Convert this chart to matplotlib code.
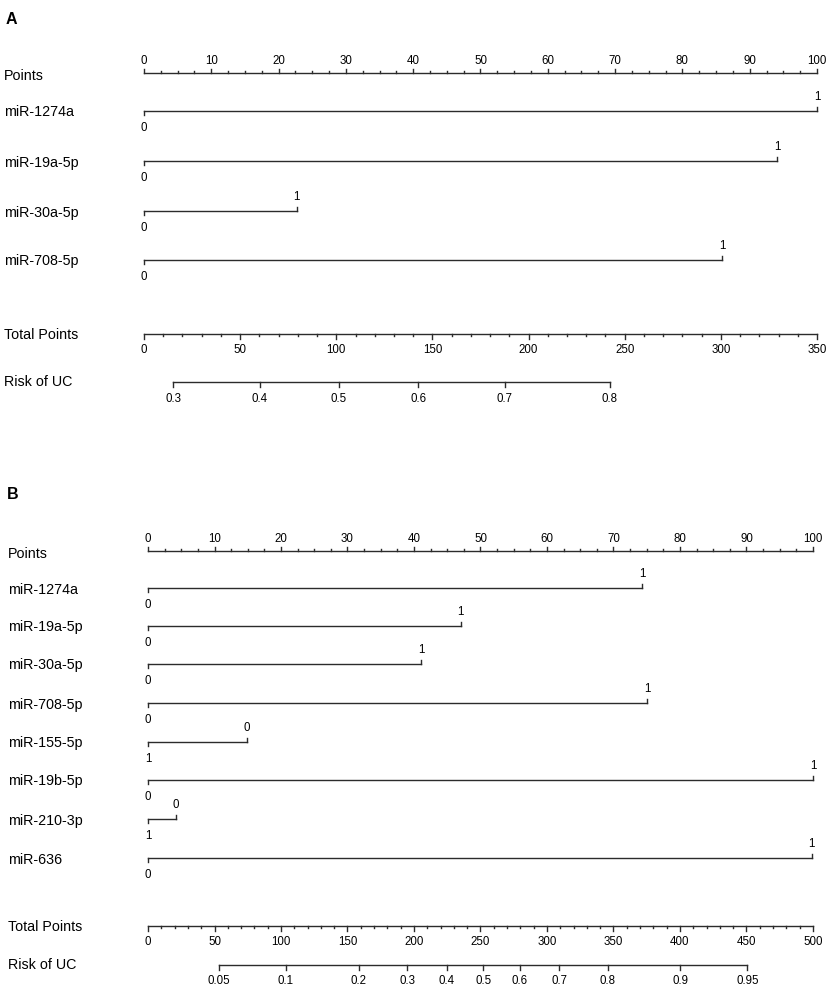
import numpy as np
import matplotlib
matplotlib.use("Agg")
import matplotlib.pyplot as plt
from matplotlib.transforms import blended_transform_factory

plt.rcParams['font.family'] = ['Liberation Sans', 'DejaVu Sans']

# ---------------- data ----------------
# Panel A
a_vars = ['miR-1274a', 'miR-19a-5p', 'miR-30a-5p', 'miR-708-5p']
a_points = [100, 94.1, 22.7, 85.9]
a_left_labels = ['0', '0', '0', '0']
a_right_labels = ['1', '1', '1', '1']
a_total_max = 350
a_total_major = [0, 50, 100, 150, 200, 250, 300, 350]
a_risk_ticks = [0.3, 0.4, 0.5, 0.6, 0.7, 0.8]
a_risk_labels = ['0.3', '0.4', '0.5', '0.6', '0.7', '0.8']
a_risk_center = 101.4     # total points where risk = 0.5
a_risk_slope = 0.00984    # logit per total point

# Panel B
b_vars = ['miR-1274a', 'miR-19a-5p', 'miR-30a-5p', 'miR-708-5p',
          'miR-155-5p', 'miR-19b-5p', 'miR-210-3p', 'miR-636']
b_points = [74.3, 47.0, 41.1, 75.1, 14.9, 100, 4.2, 99.8]
b_left_labels = ['0', '0', '0', '0', '1', '0', '1', '0']
b_right_labels = ['1', '1', '1', '1', '0', '1', '0', '1']
b_total_max = 500
b_total_major = [0, 50, 100, 150, 200, 250, 300, 350, 400, 450, 500]
b_risk_ticks = [0.05, 0.1, 0.2, 0.3, 0.4, 0.5, 0.6, 0.7, 0.8, 0.9, 0.95]
b_risk_labels = ['0.05', '0.1', '0.2', '0.3', '0.4', '0.5', '0.6', '0.7',
                 '0.8', '0.9', '0.95']
b_risk_center = 252.0
b_risk_slope = 0.01482

points_major = list(range(0, 101, 10))

# ---------------- layout ----------------
W, H = 829, 986
LC = '#2b2b2b'
LW = 1.0
FS_LAB = 10.3
FS_TICK = 8.3

fig = plt.figure(figsize=(W / 100, H / 100), dpi=100)


def draw_panel(letter, letter_xy, x0, x1, label_x, y_points, y_vars, y_total,
               y_risk, vars_, pts, left_labels, right_labels, total_max,
               total_major, risk_ticks, risk_labels, risk_center, risk_slope):
    ax = fig.add_axes([x0 / W, 0, (x1 - x0) / W, 1])
    ax.set_xlim(0, 100)
    ax.set_ylim(H, 0)
    ax.axis('off')
    lab_tr = blended_transform_factory(fig.transFigure, ax.transData)

    def lab(text, y):
        ax.text(label_x / W, y, text, transform=lab_tr, ha='left', va='center',
                fontsize=FS_LAB, color='black')

    fig.text(letter_xy[0] / W, 1 - letter_xy[1] / H, letter, fontsize=11.5,
             fontweight='bold', ha='left', va='center')

    # Points axis (labels above, ticks up)
    lab('Points', y_points + 3)
    ax.plot([0, 100], [y_points, y_points], color=LC, lw=LW, clip_on=False)
    minor = np.arange(0, 100.01, 2.5)
    for m in minor:
        ln = 4.5 if abs(m / 10 - round(m / 10)) < 1e-9 else 2.2
        ax.plot([m, m], [y_points, y_points - ln], color=LC, lw=LW, clip_on=False)
    for v in points_major:
        ax.text(v, y_points - 12.5, str(v), ha='center', va='center',
                fontsize=FS_TICK)

    # Variables
    for name, p, ll, rl, y in zip(vars_, pts, left_labels, right_labels, y_vars):
        lab(name, y + 1.5)
        ax.plot([0, p], [y, y], color=LC, lw=LW, clip_on=False)
        ax.plot([0, 0], [y, y + 4], color=LC, lw=LW, clip_on=False)
        ax.plot([p, p], [y, y - 4], color=LC, lw=LW, clip_on=False)
        ax.text(0, y + 17, ll, ha='center', va='center', fontsize=FS_TICK)
        ax.text(p, y - 14, rl, ha='center', va='center', fontsize=FS_TICK)

    # Total points axis (labels below, ticks down)
    scale = 100.0 / total_max
    lab('Total Points', y_total + 1)
    ax.plot([0, total_max * scale], [y_total, y_total], color=LC, lw=LW,
            clip_on=False)
    for t in np.arange(0, total_max + 0.01, 10):
        ln = 4.5 if t in total_major else 2.2
        ax.plot([t * scale] * 2, [y_total, y_total + ln], color=LC, lw=LW,
                clip_on=False)
    for t in total_major:
        ax.text(t * scale, y_total + 16, str(t), ha='center', va='center',
                fontsize=FS_TICK)

    # Risk axis
    lab('Risk of UC', y_risk)
    r = np.array(risk_ticks)
    tp = risk_center + np.log(r / (1 - r)) / risk_slope
    xr = tp * scale
    ax.plot([xr[0], xr[-1]], [y_risk, y_risk], color=LC, lw=LW, clip_on=False)
    for xv, lb in zip(xr, risk_labels):
        ax.plot([xv, xv], [y_risk, y_risk + 4.5], color=LC, lw=LW, clip_on=False)
        ax.text(xv, y_risk + 16.5, lb, ha='center', va='center',
                fontsize=FS_TICK)


draw_panel('A', (6, 20), 144, 817, 4, 73, [111, 161, 211, 260], 334, 382,
           a_vars, a_points, a_left_labels, a_right_labels, a_total_max,
           a_total_major, a_risk_ticks, a_risk_labels, a_risk_center,
           a_risk_slope)

draw_panel('B', (7, 495), 148, 813, 8, 551,
           [588, 626, 664, 703, 742, 780, 819, 858], 926, 965,
           b_vars, b_points, b_left_labels, b_right_labels, b_total_max,
           b_total_major, b_risk_ticks, b_risk_labels, b_risk_center,
           b_risk_slope)

fig.savefig('out.png', dpi=100, facecolor='white')
